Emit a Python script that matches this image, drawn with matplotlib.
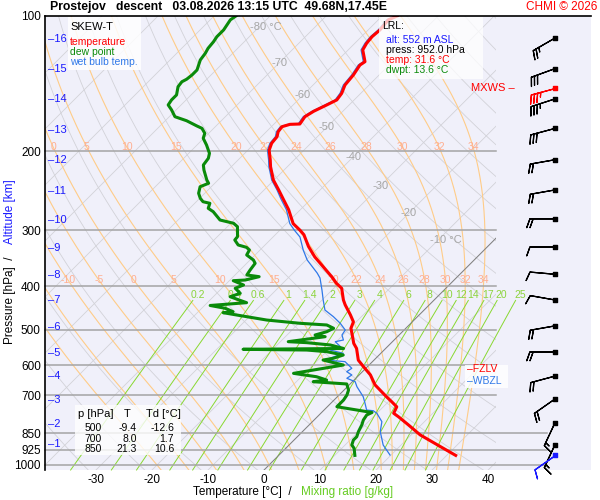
import numpy as np
import matplotlib
matplotlib.use('Agg')
import matplotlib.pyplot as plt
import matplotlib.transforms as mtransforms
from matplotlib.patches import Rectangle
from matplotlib.lines import Line2D

plt.rcParams['font.family'] = ['Liberation Sans', 'DejaVu Sans']

# --- sounding (pressure hPa, temperature degC) ---
temp_p = [100, 102, 107.4, 111.2, 115, 119, 126.4, 128.6, 135.3, 142.5, 148.7, 153.8, 157.8, 163,
          167.6, 174, 174.3, 176.4, 181, 185.7, 192, 199, 205.8, 209, 216.6, 232, 244, 255, 270,
          290, 300, 307, 326, 344, 362, 381, 394, 404, 429, 440, 463, 480, 496, 518, 536, 550,
          584, 604, 630, 663, 705, 723, 742, 767, 781, 814, 857, 910, 952]
temp_t = [-57.3, -58.2, -57.9, -58.1, -57.9, -57.4, -54.9, -55.2, -54.6, -54.3, -53.4, -53.1, -54.0,
          -55.2, -55.8, -55.4, -57.1, -58.1, -57.9, -57.2, -57.0, -56.2, -54.9, -54.3, -53.0, -50.1,
          -47.4, -45.1, -42.1, -38.8, -36.4, -34.9, -32.0, -29.0, -25.7, -22.4, -20.4, -18.6, -16.2,
          -15.0, -12.3, -10.5, -9.8, -8.0, -6.6, -5.2, -2.8, -0.7, 2.0, 4.6, 8.8, 10.6, 12.4, 13.0,
          14.5, 17.7, 21.6, 27.3, 31.6]

dwpt_p = [100, 102, 107.4, 111.2, 114.1, 118, 121.1, 125.3, 131.9, 135.3, 138.3, 140.1, 143.7, 149.9,
          153.8, 157.8, 161.9, 167.6, 171.1, 175.8, 177.9, 182.5, 187.2, 193.8, 202.2, 207.5, 214.7,
          220.3, 231.9, 235.8, 240, 248.2, 254.7, 259.2, 261.3, 268.1, 272.8, 284.7, 289.5, 294.6,
          310.1, 315.4, 323.6, 327.5, 332, 340.6, 349.5, 355.5, 367.9, 377.4, 380.7, 387.3, 388.6,
          397.3, 404, 414.6, 421.9, 435, 441.3, 447.7, 455.6, 457.9, 463.3, 475.5, 483.5, 487.7,
          496, 504.8, 513.4, 517.9, 531.3, 534, 540.4, 550.2, 552.5, 554.6, 559.3, 569, 578.6,
          583.8, 598.9, 625, 635.9, 646.8, 652.4, 660, 680.9, 698.3, 716.7, 741.7, 764, 773.8,
          794.1, 814.3, 843, 865, 879.9, 902.6, 918, 952]
dwpt_t = [-86.1, -86.4, -85.8, -85.8, -85.5, -85.3, -84.9, -84.6, -83.4, -83.4, -83.6, -84.0, -83.8,
          -82.6, -82.6, -82.3, -80.8, -79.0, -76.2, -73.4, -72.1, -70.7, -70.1, -68.3, -66.3, -65.6,
          -65.3, -64.3, -62.0, -61.1, -62.0, -61.1, -59.9, -58.8, -57.3, -56.7, -55.2, -52.5, -49.5,
          -48.2, -46.4, -46.3, -44.8, -42.9, -41.9, -41.5, -39.4, -38.5, -38.2, -37.9, -35.4, -37.3,
          -39.3, -36.7, -37.6, -35.8, -37.0, -33.0, -39.0, -35.8, -33.8, -35.4, -32.6, -26.3, -19.8,
          -14.7, -12.9, -13.5, -15.0, -12.9, -18.6, -15.1, -10.5, -7.5, -25.3, -13.8, -9.9, -6.4,
          -7.6, -9.1, -4.6, -12.0, -7.3, -4.9, -7.0, -0.6, 0.8, 1.4, 1.7, 1.7, 9.0, 8.5, 8.8, 9.4,
          10.0, 10.6, 10.6, 11.2, 12.2, 13.6]

wetb_p = [100, 102, 107.4, 111.2, 115, 119, 126.4, 128.6, 135.3, 142.5, 148.7, 153.8, 157.8, 163,
          167.6, 174, 174.3, 176.4, 181, 185.7, 192, 199, 205.8, 209, 216.6, 232, 244, 255, 270,
          290, 300, 310.6, 332, 349.5, 373.6, 383.3, 407.7, 429.1, 451.7, 467.4, 483.5, 500.5,
          513.4, 526.8, 531.3, 545, 554.6, 564, 583.8, 588.6, 609, 619.7, 630.2, 641, 652.4,
          669.3, 704.4, 728.6, 754.4, 757, 767, 800.8, 843, 902.6, 950]
wetb_t = [-57.6, -58.5, -58.2, -58.4, -58.2, -57.7, -55.2, -55.5, -54.9, -54.6, -53.7, -53.4, -54.3,
          -55.5, -56.1, -55.7, -57.4, -58.4, -58.2, -57.5, -57.3, -56.5, -55.2, -54.6, -53.3, -50.4,
          -47.7, -45.5, -42.5, -39.4, -37.4, -35.2, -32.3, -29.8, -25.7, -24.3, -21.8, -19.8, -17.7,
          -15.0, -12.6, -10.5, -10.2, -9.05, -10.2, -8.4, -9.6, -6.7, -8.75, -4.9, -2.5, -2.8, -1.3,
          -1.6, 0.5, 1.7, 4.6, 6.1, 7.6, 8.9, 10.0, 12.4, 13.9, 16.8, 19.8]

# wind barbs at 1..16 km (direction deg, speed kt)
wind_p = [902, 806, 713, 634, 560, 490, 429, 376, 327, 283, 244, 209, 178, 153, 131, 112]
wind_dir = [205, 205, 235, 255, 270, 260, 280, 275, 270, 270, 260, 260, 255, 252, 250, 240]
wind_spd = [15, 15, 20, 20, 20, 20, 10, 10, 10, 20, 20, 20, 30, 35, 30, 25]
mxws_p, mxws_dir, mxws_spd = 145, 255, 35
sfc_p, sfc_dir, sfc_spd = 950, 235, 10

alt_km = list(range(1, 17))
alt_p = [900, 810, 717, 635, 562, 493, 429, 378, 329, 285, 245, 209, 179.6, 153, 131.2, 112.5]

p_ticks = [100, 200, 300, 400, 500, 600, 700, 850, 925, 1000]
t_ticks = [-30, -20, -10, 0, 10, 20, 30, 40]

iso_lab_t = [-80, -70, -60, -50, -40, -30, -20, -10]
iso_lab_p = [106, 127, 150, 177, 206, 239, 275, 315]

moist_tw = [-20, -15, -10, -5, 0, 5, 10, 15, 20, 22, 24, 26, 28, 30, 32, 34]
mix_w = [0.2, 0.4, 0.6, 1, 1.4, 2, 3, 4, 6, 8, 10, 12, 14, 17, 20, 25]
mix_lab = ['0.2', '0.4', '0.6', '1', '1.4', '2', '3', '4', '6', '8', '10', '12', '14', '17', '20', '25']

table_p = [500, 700, 850]
table_t = [-9.4, 8.0, 21.3]
table_td = [-12.6, 1.7, 10.6]

lrl_alt, lrl_press, lrl_temp, lrl_dwpt = 552, 952.0, 31.6, 13.6
fzlv_p, wbzl_p = 612, 650

P_BOT = 1026.0
SKEW = 195 / 5.6

def skx(t, p):
    return np.asarray(t, float) + SKEW * np.log(P_BOT / np.asarray(p, float))

def fx(x):
    return x / 600.0

def fy(y):
    return 1 - y / 500.0

def es(tc):
    return 6.112 * np.exp(17.67 * tc / (tc + 243.5))

def dtdp(t, p):
    e = es(t - 273.15)
    rs = 0.622 * e / (p - e)
    return (287.04 * t + 2.501e6 * rs) / (p * (1005.7 + 2.501e6 ** 2 * rs * 0.622 / (287.04 * t ** 2)))

def integrate(t0, p_arr):
    out = [t0]
    t = t0
    for i in range(len(p_arr) - 1):
        p, dp = p_arr[i], p_arr[i + 1] - p_arr[i]
        k1 = dtdp(t, p)
        k2 = dtdp(t + 0.5 * dp * k1, p + 0.5 * dp)
        k3 = dtdp(t + 0.5 * dp * k2, p + 0.5 * dp)
        k4 = dtdp(t + dp * k3, p + dp)
        t = t + dp / 6 * (k1 + 2 * k2 + 2 * k3 + k4)
        out.append(t)
    return np.array(out)


fig = plt.figure(figsize=(6, 5), dpi=100)
fig.patch.set_facecolor('white')
fig.patches.append(Rectangle((fx(45), fy(470)), fx(546), 0.908, transform=fig.transFigure,
                             facecolor='#f0f0fa', edgecolor='none', zorder=-10))

ax = fig.add_axes([fx(45), fy(470), fx(451), 0.908], facecolor='none')
ax.set_yscale('log')
ax.set_ylim(P_BOT, 100)
ax.set_xlim(-39.1, 41.4)
for s in ['top', 'right', 'bottom']:
    ax.spines[s].set_visible(False)
ax.spines['left'].set_linewidth(1.2)
ax.set_yticks(p_ticks)
ax.set_yticklabels([str(p) for p in p_ticks], fontsize=8.5)
ax.yaxis.set_minor_locator(matplotlib.ticker.NullLocator())
ax.set_xticks(t_ticks)
ax.set_xticklabels([str(t) for t in t_ticks], fontsize=8.5)
ax.tick_params(length=0, pad=3)

pp = np.geomspace(P_BOT, 100, 200)

# isotherms
for t in range(-140, 50, 10):
    ax.plot(skx(np.full_like(pp, t), pp), pp, color='#d2d2d8', lw=0.6, zorder=1)
ax.plot(skx(np.zeros_like(pp), pp), pp, color='#808080', lw=0.7, zorder=1.5)

# dry adiabats
for th in range(230, 480, 10):
    ax.plot(skx(th * (pp / 1000.0) ** 0.2857 - 273.15, pp), pp, color='#d2d2d8', lw=0.6, zorder=1)

# moist adiabats
p_up = np.arange(1000, 99, -2.0)
p_dn = np.arange(1000, 1030, 2.0)
for tw in moist_tw:
    tu = integrate(tw + 273.15, p_up) - 273.15
    td = integrate(tw + 273.15, p_dn) - 273.15
    pm = np.concatenate([p_dn[::-1], p_up[1:]])
    tm = np.concatenate([td[::-1], tu[1:]])
    ax.plot(skx(tm, pm), pm, color='#ffcc88', lw=0.8, zorder=1.2)
    for prow in [196, 388]:
        tl = np.interp(prow, pm[::-1], tm[::-1])
        xl = skx(tl, prow)
        if -38 < xl < 41:
            ax.text(xl, prow, str(tw), color='#ffae90', fontsize=7.5, ha='center', va='center', zorder=2)

# mixing ratio lines
pw = np.linspace(P_BOT, 430, 60)
for w, lab in zip(mix_w, mix_lab):
    e = w * pw / (622.0 + w)
    le = np.log(e / 6.112)
    tdw = 243.5 * le / (17.67 - le)
    ax.plot(skx(tdw, pw), pw, color='#88d830', lw=0.7, zorder=1.3, clip_on=False)
    el = w * 425 / (622.0 + w)
    ll = np.log(el / 6.112)
    ax.text(skx(243.5 * ll / (17.67 - ll), 418), 418, lab, color='#8cd43c', fontsize=7.5,
            ha='center', va='center', clip_on=False, zorder=2)

# isobars
for p in p_ticks[1:]:
    xe = 50.5 if p >= 850 else 41.4
    ax.plot([-39.1, xe], [p, p], color='#a4a4a4', lw=1.1, zorder=1.6, clip_on=False)

# isotherm labels
for t, p in zip(iso_lab_t, iso_lab_p):
    lab = '%d °C' % t if t in (-80, -10) else str(t)
    shift = 1.3 if t in (-80, -10) else 0
    ax.text(skx(t, p) + shift, p, lab, color='#a6a6a6', fontsize=8, ha='center', va='center', zorder=2)

# altitude marks
blend = mtransforms.blended_transform_factory(ax.transAxes, ax.transData)
for k, p in zip(alt_km, alt_p):
    ax.text(0.006, p, '\u2013' + str(k), transform=blend, color='#1a1aff', fontsize=8, va='center')

# profiles
ax.plot(skx(wetb_t, wetb_p), wetb_p, color='#2f78e8', lw=0.9, zorder=3)
ax.plot(skx(dwpt_t, dwpt_p), dwpt_p, color='#0a8a0a', lw=2.2, zorder=4)
ax.plot(skx(temp_t, temp_p), temp_p, color='#ff0000', lw=2.2, zorder=5)

# wind barbs
bx = fig.add_axes([fx(496), fy(470), fx(95), 0.908], facecolor='none')
bx.set_yscale('log')
bx.set_ylim(P_BOT, 100)
bx.set_xlim(0, 1)
bx.axis('off')
bsize = dict(spacing=0.13, height=0.35)

def draw_barbs(plist, dlist, slist, col):
    d = np.radians(np.asarray(dlist, float))
    s = np.asarray(slist, float)
    xs = np.full(len(plist), 0.62)
    bx.barbs(xs, plist, -s * np.sin(d), -s * np.cos(d), length=6, sizes=bsize, lw=0.9,
             color=col, flip_barb=True, clip_on=False)
    bx.scatter(xs, plist, marker='s', s=5, c=col, zorder=3)

draw_barbs(wind_p, wind_dir, wind_spd, 'k')
draw_barbs([mxws_p], [mxws_dir], [mxws_spd], '#ff0000')
draw_barbs([sfc_p], [sfc_dir], [sfc_spd], '#1a1aff')
bx.text(0.2, mxws_p, 'MXWS \u2013', color='#ff0000', fontsize=8, ha='right', va='center')

# frame line on top
fig.add_artist(Line2D([fx(45), fx(591)], [fy(15.5), fy(15.5)], color='k', lw=1.2))

# titles
fig.text(fx(50), fy(7), 'Prostejov   descent   03.08.2026 13:15 UTC  49.68N,17.45E',
         fontsize=8.8, fontweight='bold', va='center')
fig.text(fx(597), fy(7), 'CHMI \u00a9 2026', fontsize=8.5, color='#ff0000', ha='right', va='center')
fig.text(fx(292), fy(492), 'Temperature [°C]  /', fontsize=8.5, ha='right', va='center')
fig.text(fx(301), fy(492), 'Mixing ratio [g/kg]', fontsize=8.5, ha='left', va='center', color='#66cc22')
fig.text(fx(10), fy(257), 'Pressure [hPa]  /', fontsize=8.5, rotation=90, ha='center', va='top')
fig.text(fx(10), fy(244), 'Altitude [km]', fontsize=8.5, rotation=90, ha='center', va='bottom',
         color='#1a1aff')

# legend box
fig.patches.append(Rectangle((fx(68), fy(70)), fx(73), 53 / 500, transform=fig.transFigure,
                             facecolor='white', edgecolor='none', alpha=0.85, zorder=1))
fig.text(fx(70), fy(27), 'SKEW-T', fontsize=8, va='center')
fig.text(fx(70), fy(42), 'temperature', fontsize=7.5, va='center', color='#ff0000')
fig.text(fx(70), fy(52), 'dew point', fontsize=7.5, va='center', color='#0a8a0a')
fig.text(fx(70), fy(62), 'wet bulb temp.', fontsize=7.5, va='center', color='#2f78e8')

# LRL box
fig.patches.append(Rectangle((fx(379), fy(79)), fx(104), 62 / 500, transform=fig.transFigure,
                             facecolor='white', edgecolor='none', alpha=0.75, zorder=1))
fig.text(fx(382), fy(26), 'LRL:', fontsize=7.5, va='center')
fig.text(fx(386), fy(40), 'alt: %d m ASL' % lrl_alt, fontsize=7.5, va='center', color='#1a1aff')
fig.text(fx(386), fy(50), 'press: %.1f hPa' % lrl_press, fontsize=7.5, va='center')
fig.text(fx(386), fy(60), 'temp: %.1f °C' % lrl_temp, fontsize=7.5, va='center', color='#ff0000')
fig.text(fx(386), fy(70), 'dwpt: %.1f °C' % lrl_dwpt, fontsize=7.5, va='center', color='#0a8a0a')

# table box
fig.patches.append(Rectangle((fx(75), fy(455)), fx(106), 50 / 500, transform=fig.transFigure,
                             facecolor='white', edgecolor='none', alpha=0.8, zorder=1))
fig.text(fx(78), fy(414), 'p [hPa]', fontsize=8, va='center')
fig.text(fx(127), fy(414), 'T', fontsize=8, va='center', ha='center')
fig.text(fx(146), fy(414), 'Td [°C]', fontsize=8, va='center')
for i, (p, t, td) in enumerate(zip(table_p, table_t, table_td)):
    yy = 428 + 10.5 * i
    fig.text(fx(102), fy(yy), str(p), fontsize=7.5, va='center', ha='right')
    fig.text(fx(137), fy(yy), '%.1f' % t, fontsize=7.5, va='center', ha='right')
    fig.text(fx(174), fy(yy), '%.1f' % td, fontsize=7.5, va='center', ha='right')

# FZLV / WBZL
fig.patches.append(Rectangle((fx(465), fy(388)), fx(43), 23 / 500, transform=fig.transFigure,
                             facecolor='white', edgecolor='none', alpha=0.85, zorder=1))
fig.text(0.935, fzlv_p, '\u2013FZLV', transform=blend, fontsize=7.5, color='#ff0000', va='center')
fig.text(0.935, wbzl_p, '\u2013WBZL', transform=blend, fontsize=7.5, color='#2f78e8', va='center')

fig.savefig('out.png', dpi=100)
